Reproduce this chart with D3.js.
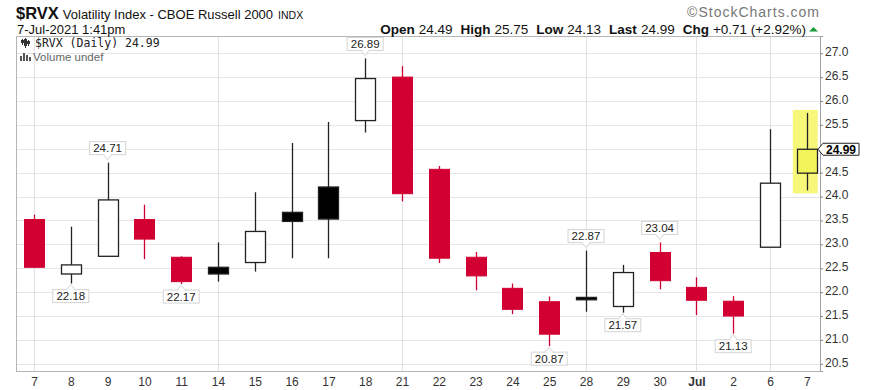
<!DOCTYPE html>
<html>
<head>
<meta charset="utf-8">
<script src="https://cdn.jsdelivr.net/npm/d3@7"></script>
<style>
  body { margin: 0; background: #fff; }
  svg { display: block; font-family: "Liberation Sans", Arial, sans-serif; }
</style>
</head>
<body>
<div id="chart"></div>
<script>
// daily candles, Jun 7 - Jul 7 2021
var dayLabels = ["7","8","9","10","11","14","15","16","17","18","21","22","23","24","25","28","29","30","Jul","2","6","7"];
var openVals  = [23.52, 22.38, 22.75, 23.52, 22.73, 22.52, 22.62, 23.67, 24.20, 25.59, 26.50, 24.57, 22.73, 22.08, 21.80, 21.89, 21.70, 22.83, 22.10, 21.81, 22.94, 24.49];
var highVals  = [23.62, 23.37, 24.71, 23.83, 22.75, 23.04, 24.09, 25.12, 25.56, 26.89, 26.73, 24.64, 22.84, 22.18, 21.91, 22.87, 22.57, 23.04, 22.31, 21.92, 25.41, 25.75];
var lowVals   = [22.52, 22.18, 22.75, 22.69, 22.17, 22.22, 22.43, 22.71, 22.71, 25.34, 23.90, 22.61, 22.04, 21.54, 20.87, 21.59, 21.57, 22.06, 21.52, 21.13, 22.94, 24.13];
var closeVals = [22.52, 22.57, 23.93, 23.11, 22.22, 22.38, 23.27, 23.48, 23.53, 26.47, 24.06, 22.71, 22.34, 21.64, 21.12, 21.84, 22.41, 22.24, 21.83, 21.50, 24.28, 24.99];
var priorClose = 23.90; // close before first bar

var peakIdx   = [2, 9, 15, 17];      // labelled swing highs
var troughIdx = [1, 4, 14, 16, 19];  // labelled swing lows
var gridIdx   = [0, 5, 10, 15, 18, 20];
var yTicks    = [20.5, 21, 21.5, 22, 22.5, 23, 23.5, 24, 24.5, 25, 25.5, 26, 26.5, 27];

var W = 870, H = 390;
var m = {left: 16, right: 820, top: 36, bottom: 371};
var RED = "#d20032", DARK = "#222";

var svg = d3.select("#chart").append("svg").attr("width", W).attr("height", H);

var x = d3.scalePoint().domain(d3.range(dayLabels.length)).range([34, 806.8]);
var y = d3.scaleLinear().domain([20.35, 27.36]).range([m.bottom, m.top]);

// grid
svg.append("g").selectAll("line").data(yTicks).enter().append("line")
    .attr("x1", m.left).attr("x2", m.right)
    .attr("y1", d => Math.round(y(d)) + 0.5).attr("y2", d => Math.round(y(d)) + 0.5)
    .attr("stroke", "#e6e6e6");
svg.append("g").selectAll("line").data(gridIdx).enter().append("line")
    .attr("x1", d => Math.round(x(d)) + 0.5).attr("x2", d => Math.round(x(d)) + 0.5)
    .attr("y1", m.top).attr("y2", m.bottom)
    .attr("stroke", "#e2e2e2");

// frame
svg.append("rect").attr("x", m.left + 0.5).attr("y", m.top + 0.5)
    .attr("width", m.right - m.left).attr("height", m.bottom - m.top)
    .attr("fill", "none").attr("stroke", "#b5b5b5");

// highlight on the last bar
var last = dayLabels.length - 1;
svg.append("rect")
    .attr("x", x(last) - 14).attr("width", 25)
    .attr("y", y(highVals[last]) - 3).attr("height", y(lowVals[last]) - y(highVals[last]) + 6)
    .attr("fill", "#f7f77a");

// candles
var bars = d3.range(dayLabels.length).map(function(i) {
    var prev = i === 0 ? priorClose : closeVals[i - 1];
    return {
        i: i, o: openVals[i], h: highVals[i], l: lowVals[i], c: closeVals[i],
        red: closeVals[i] < prev,
        filled: closeVals[i] < openVals[i]
    };
});

var cg = svg.append("g");
cg.selectAll("line.wick").data(bars).enter().append("line")
    .attr("class", "wick")
    .attr("x1", d => Math.round(x(d.i)) + 0.5).attr("x2", d => Math.round(x(d.i)) + 0.5)
    .attr("y1", d => y(d.h)).attr("y2", d => y(d.l))
    .attr("stroke", d => d.red ? RED : DARK).attr("stroke-width", 1.3);

cg.selectAll("rect.body").data(bars).enter().append("rect")
    .attr("class", "body")
    .attr("x", d => Math.round(x(d.i)) - 10 + 0.5)
    .attr("width", 20)
    .attr("y", d => y(Math.max(d.o, d.c)))
    .attr("height", d => Math.max(2, Math.abs(y(d.o) - y(d.c))))
    .attr("fill", d => d.i === last ? "#f2f25a" : d.red ? RED : (d.filled ? "#000" : "#fff"))
    .attr("stroke", d => d.red ? RED : DARK)
    .attr("stroke-width", d => d.red ? 1 : 1.3);

// swing labels
function tag(i, val, above) {
    var txt = val.toFixed(2);
    var cx = x(i), py = y(val);
    var g = svg.append("g");
    var bw = 36, bh = 13;
    var by = above ? py - 8 - bh : py + 6;
    g.append("rect").attr("x", cx - bw / 2).attr("y", by).attr("width", bw).attr("height", bh)
        .attr("fill", "#fff").attr("stroke", "#d4d4d4");
    var ey = above ? by + bh : by;
    g.append("path")
        .attr("d", "M" + (cx - 4) + "," + ey + "L" + cx + "," + (above ? ey + 5 : ey - 5) + "L" + (cx + 4) + "," + ey)
        .attr("fill", "#fff").attr("stroke", "#d4d4d4");
    g.append("line").attr("x1", cx - 3).attr("x2", cx + 3).attr("y1", ey).attr("y2", ey)
        .attr("stroke", "#fff").attr("stroke-width", 1.5);
    g.append("text").attr("x", cx).attr("y", by + 10.5).attr("text-anchor", "middle")
        .attr("font-size", "11.5px").attr("fill", "#222").text(txt);
}
peakIdx.forEach(i => tag(i, highVals[i], true));
troughIdx.forEach(i => tag(i, lowVals[i], false));

// y axis on the right
var last = dayLabels.length - 1;
var yAxis = svg.append("g").attr("transform", "translate(" + m.right + ",0)")
    .call(d3.axisRight(y).tickValues(yTicks).tickFormat(d3.format(".1f")).tickSize(3).tickPadding(2));
yAxis.select(".domain").attr("stroke", "#a0a0a0");
yAxis.selectAll(".tick line").attr("stroke", "#888");
yAxis.selectAll("text").attr("font-size", "12px").attr("fill", "#333")
    .attr("font-family", "Liberation Sans, Arial, sans-serif").attr("dy", "0.2em");
// the last-price tag sits over this label in the original
yAxis.selectAll(".tick").filter(d => Math.abs(y(d) - y(closeVals[last])) < 8).select("text").remove();

// x axis
var xAxis = svg.append("g").attr("transform", "translate(0," + m.bottom + ")")
    .call(d3.axisBottom(x).tickFormat(i => dayLabels[i]).tickSize(0).tickPadding(6));
xAxis.select(".domain").remove();
xAxis.selectAll("text").attr("font-size", "12px").attr("fill", "#333")
    .attr("font-family", "Liberation Sans, Arial, sans-serif")
    .attr("font-weight", (i) => dayLabels[i] === "Jul" ? "bold" : null);

// last price tag
var ly = y(closeVals[last]);
svg.append("path")
    .attr("d", "M818," + ly + "L823," + (ly - 6) + "L859," + (ly - 6) + "L859," + (ly + 6) + "L823," + (ly + 6) + "Z")
    .attr("fill", "#fff").attr("stroke", "#222");
svg.append("text").attr("x", 841).attr("y", ly + 4.5).attr("text-anchor", "middle")
    .attr("font-size", "12px").attr("font-weight", "bold").attr("fill", "#000")
    .text(closeVals[last].toFixed(2));

// header
var h1 = svg.append("text").attr("x", 16).attr("y", 19).attr("fill", "#111");
h1.append("tspan").attr("font-size", "16.5px").attr("font-weight", "bold").text("$RVX");
h1.append("tspan").attr("font-size", "13px").attr("dx", 4).text("Volatility Index - CBOE Russell 2000");
h1.append("tspan").attr("font-size", "10.5px").attr("dx", 5).text("INDX");

svg.append("text").attr("x", 17).attr("y", 34).attr("font-size", "13px").attr("fill", "#111")
    .text("7-Jul-2021 1:41pm");

svg.append("text").attr("x", 820).attr("y", 17).attr("text-anchor", "end")
    .attr("font-size", "14px").attr("letter-spacing", "1px").attr("fill", "#777").text("\u00a9StockCharts.com");

var chg = closeVals[last] - closeVals[last - 1];
var quote = [
    ["Open", openVals[last].toFixed(2)],
    ["High", highVals[last].toFixed(2)],
    ["Low", lowVals[last].toFixed(2)],
    ["Last", closeVals[last].toFixed(2)],
    ["Chg", "+" + chg.toFixed(2) + " (+" + (chg / closeVals[last - 1] * 100).toFixed(2) + "%)"]
];
var qt = svg.append("text").attr("x", 806).attr("y", 34).attr("text-anchor", "end")
    .attr("font-size", "13.5px").attr("fill", "#111");
quote.forEach(function(q, k) {
    qt.append("tspan").attr("font-weight", "bold").attr("dx", k ? 8 : 0).text(q[0]);
    qt.append("tspan").attr("dx", 4).text(q[1]);
});
svg.append("path").attr("d", "M809,31.5L813.5,27L818,31.5Z").attr("fill", "#1a9a3a");

// in-chart legend
var lg = svg.append("g");
[[22, 40, 43], [25, 39, 46], [28, 41, 44]].forEach(function(c) {
    lg.append("line").attr("x1", c[0] + 0.5).attr("x2", c[0] + 0.5).attr("y1", c[1] - 1).attr("y2", c[2] + 2)
        .attr("stroke", "#333");
    lg.append("rect").attr("x", c[0] - 1).attr("y", c[1]).attr("width", 3).attr("height", c[2] - c[1])
        .attr("fill", "#333");
});
lg.append("text").attr("x", 35).attr("y", 47).attr("font-family", "DejaVu Sans Mono, monospace")
    .attr("font-size", "11.5px").attr("fill", "#222").text("$RVX (Daily) " + closeVals[last].toFixed(2));
[[20, 56], [23, 53], [26, 55], [29, 57]].forEach(function(b) {
    lg.append("rect").attr("x", b[0]).attr("y", b[1]).attr("width", 2).attr("height", 61 - b[1]).attr("fill", "#555");
});
lg.append("text").attr("x", 33).attr("y", 60.5).attr("font-size", "11.5px").attr("fill", "#666").text("Volume undef");
</script>
</body>
</html>
